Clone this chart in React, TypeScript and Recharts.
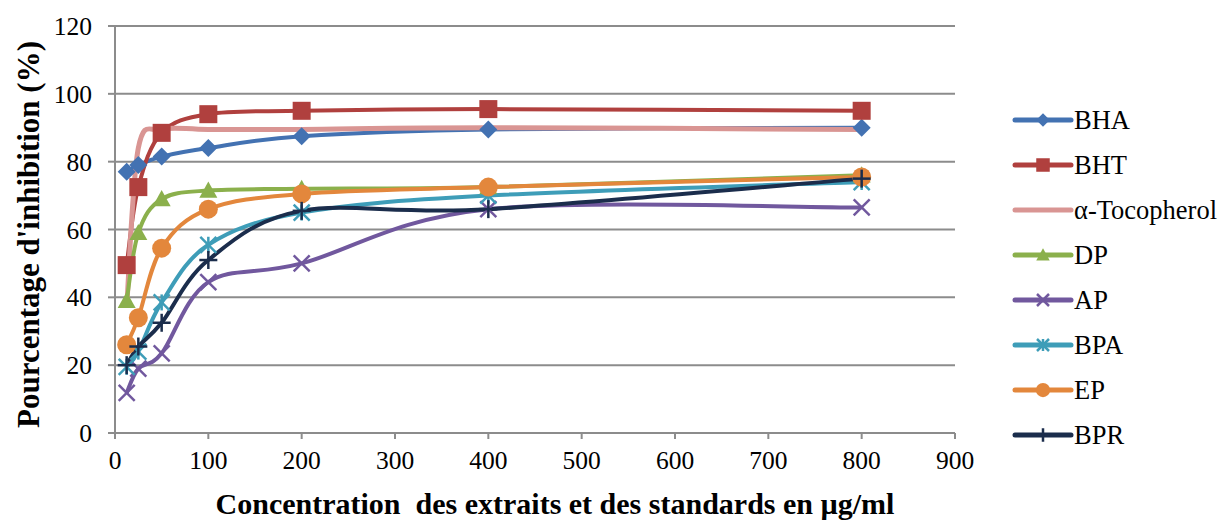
import React from "react";
import { LineChart, Line, XAxis, YAxis, CartesianGrid, Label } from "recharts";

const concentrations = [12.5, 25, 50, 100, 200, 400, 800];
const BHA = [77, 79, 81.5, 84, 87.5, 89.5, 90];
const BHT = [49.5, 72.5, 88.5, 94, 95, 95.5, 95];
const alphaToco = [37, 84, 89.5, 89.5, 89.5, 90, 89.5];
const DP = [39, 59, 69, 71.5, 72, 72.5, 76];
const AP = [11.8, 19, 23.5, 44.5, 50, 66, 66.5];
const BPA = [19.5, 24, 38.5, 55.5, 65, 70, 74];
const EP = [26, 34, 54.5, 66, 70.5, 72.5, 75.5];
const BPR = [20, 25.5, 32.5, 51, 65.5, 66, 75];

const xTicks = [0, 100, 200, 300, 400, 500, 600, 700, 800, 900];
const yTicks = [0, 20, 40, 60, 80, 100, 120];

const seriesDefs = [
  { key: "BHA", name: "BHA", values: BHA, color: "#4372B2", marker: "diamond" },
  { key: "BHT", name: "BHT", values: BHT, color: "#B0403E", marker: "square" },
  { key: "TOCO", name: "α-Tocopherol", values: alphaToco, color: "#D99593", marker: "none" },
  { key: "DP", name: "DP", values: DP, color: "#8BB04C", marker: "triangle" },
  { key: "AP", name: "AP", values: AP, color: "#71589E", marker: "x" },
  { key: "BPA", name: "BPA", values: BPA, color: "#3E9DB8", marker: "star" },
  { key: "EP", name: "EP", values: EP, color: "#E3873C", marker: "circle" },
  { key: "BPR", name: "BPR", values: BPR, color: "#1B2D4C", marker: "plus" },
];

const data = concentrations.map((c, i) => {
  const row: any = { x: c };
  seriesDefs.forEach((s) => (row[s.key] = s.values[i]));
  return row;
});

const FONT = "Liberation Serif, Times New Roman, serif";

// Excel-like smoothing (Catmull-Rom in pixel space)
const smoothCurve: any = (context: any) => {
  let xs: number[] = [];
  let ys: number[] = [];
  return {
    areaStart() {},
    areaEnd() {},
    lineStart() {
      xs = [];
      ys = [];
    },
    point(x: number, y: number) {
      xs.push(+x);
      ys.push(+y);
    },
    lineEnd() {
      const n = xs.length;
      if (!n) return;
      context.moveTo(xs[0], ys[0]);
      for (let i = 0; i < n - 1; i++) {
        const i0 = Math.max(i - 1, 0);
        const i3 = Math.min(i + 2, n - 1);
        const c1x = xs[i] + (xs[i + 1] - xs[i0]) / 6;
        const c1y = ys[i] + (ys[i + 1] - ys[i0]) / 6;
        const c2x = xs[i + 1] - (xs[i3] - xs[i]) / 6;
        const c2y = ys[i + 1] - (ys[i3] - ys[i]) / 6;
        context.bezierCurveTo(c1x, c1y, c2x, c2y, xs[i + 1], ys[i + 1]);
      }
    },
  };
};

function renderMarker(marker: string, color: string, cx: number, cy: number, scale = 1, key?: any) {
  const s = scale;
  switch (marker) {
    case "diamond": {
      const r = 9 * s;
      return <polygon key={key} points={`${cx},${cy - r} ${cx + r},${cy} ${cx},${cy + r} ${cx - r},${cy}`} fill={color} />;
    }
    case "square": {
      const h = 9 * s;
      return <rect key={key} x={cx - h} y={cy - h} width={2 * h} height={2 * h} fill={color} />;
    }
    case "triangle": {
      const h = 9 * s;
      return <polygon key={key} points={`${cx},${cy - h} ${cx + h},${cy + h * 0.8} ${cx - h},${cy + h * 0.8}`} fill={color} />;
    }
    case "x": {
      const h = 8 * s;
      return (
        <g key={key} stroke={color} strokeWidth={2.5}>
          <line x1={cx - h} y1={cy - h} x2={cx + h} y2={cy + h} />
          <line x1={cx - h} y1={cy + h} x2={cx + h} y2={cy - h} />
        </g>
      );
    }
    case "star": {
      const h = 8 * s;
      return (
        <g key={key} stroke={color} strokeWidth={2.5}>
          <line x1={cx - h} y1={cy - h} x2={cx + h} y2={cy + h} />
          <line x1={cx - h} y1={cy + h} x2={cx + h} y2={cy - h} />
          <line x1={cx} y1={cy - h} x2={cx} y2={cy + h} />
        </g>
      );
    }
    case "circle":
      return <circle key={key} cx={cx} cy={cy} r={9.5 * s} fill={color} />;
    case "plus": {
      const h = 9 * s;
      return (
        <g key={key} stroke={color} strokeWidth={2.5}>
          <line x1={cx - h} y1={cy} x2={cx + h} y2={cy} />
          <line x1={cx} y1={cy - h} x2={cx} y2={cy + h} />
        </g>
      );
    }
    default:
      return <g key={key} />;
  }
}

const LegendBox = () => (
  <svg width={210} height={370} style={{ position: "absolute", left: 1005, top: 100, overflow: "visible" }}>
    {seriesDefs.map((s, i) => {
      const cy = 12 + i * 45;
      return (
        <g key={s.key}>
          <line x1={2} y1={cy} x2={58} y2={cy} stroke={s.color} strokeWidth={5} strokeLinecap="round" />
          {renderMarker(s.marker, s.color, 30, cy, 0.75)}
          <text x={61} y={cy} dy="0.35em" fontFamily={FONT} fontSize={26.5} fill="#000">
            {s.name}
          </text>
        </g>
      );
    })}
  </svg>
);

export default function App() {
  return (
    <div style={{ position: "relative", width: 1210, height: 513, fontFamily: FONT }}>
      <LineChart
        width={1210}
        height={513}
        data={data}
        margin={{ top: 18, right: 263, bottom: 48, left: 47 }}
        style={{ fontFamily: FONT }}
      >
        <CartesianGrid horizontal vertical={false} stroke="#8C8C8C" strokeWidth={2} />
        <XAxis
          dataKey="x"
          type="number"
          domain={[0, 900]}
          ticks={xTicks}
          interval={0}
          height={40}
          stroke="#8C8C8C"
          strokeWidth={2}
          tickSize={6}
          tickMargin={12}
          tick={{ fill: "#000", fontFamily: FONT, fontSize: 25.5 }}
        >
          <Label
            value={"Concentration\u00A0 des extraits et des standards en µg/ml"}
            position="insideBottom"
            offset={-41}
            dx={20}
            style={{ fill: "#000", fontFamily: FONT, fontSize: 30, fontWeight: "bold" }}
          />
        </XAxis>
        <YAxis
          type="number"
          domain={[0, 120]}
          ticks={yTicks}
          interval={0}
          width={60}
          stroke="#8C8C8C"
          strokeWidth={2}
          tickSize={7}
          tickMargin={16}
          tick={{ fill: "#000", fontFamily: FONT, fontSize: 25.5 }}
        >
          <Label
            value="Pourcentage d'inhibition (%)"
            angle={-90}
            position="insideLeft"
            offset={-27}
            dy={5}
            style={{ textAnchor: "middle", fill: "#000", fontFamily: FONT, fontSize: 31, fontWeight: "bold" }}
          />
        </YAxis>
        {seriesDefs.map((s) => (
          <Line
            key={s.key}
            dataKey={s.key}
            name={s.name}
            type={smoothCurve}
            stroke={s.color}
            strokeWidth={s.marker === "none" ? 5 : 4}
            isAnimationActive={false}
            dot={(p: any) => renderMarker(s.marker, s.color, p.cx, p.cy, 1, `${s.key}-${p.index}`)}
            activeDot={false}
          />
        ))}
      </LineChart>
      <LegendBox />
    </div>
  );
}
